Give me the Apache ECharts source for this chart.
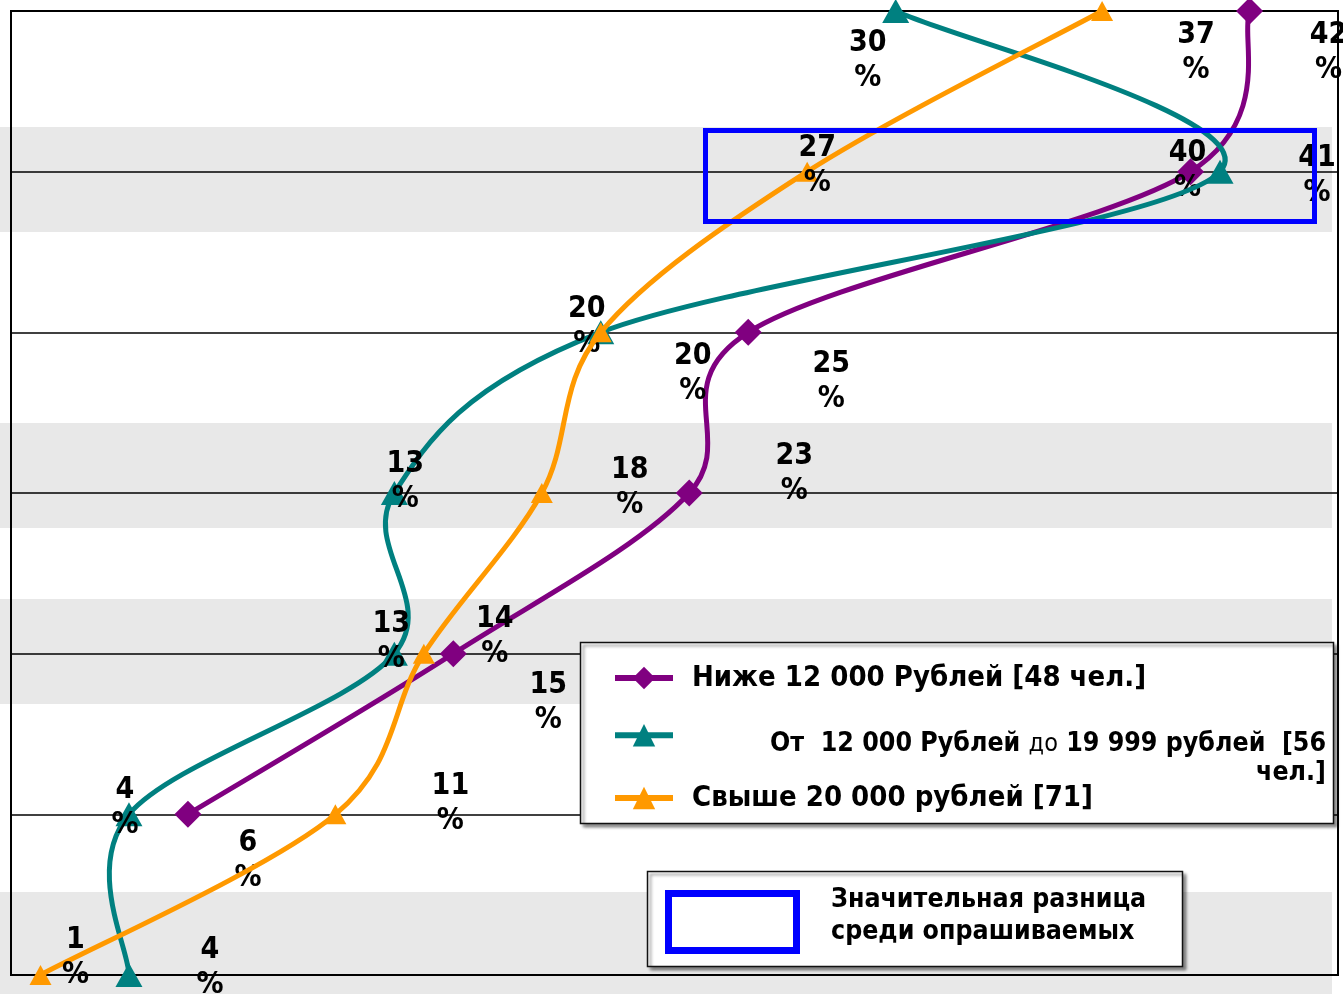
<!DOCTYPE html>
<html>
<head>
<meta charset="utf-8">
<script src="https://cdn.jsdelivr.net/npm/echarts@6/dist/echarts.min.js"></script>
<style>
html,body{margin:0;padding:0;background:#fff;}
#chart{width:1343px;height:994px;}
</style>
</head>
<body>
<div id="chart"></div>
<script>
// ---- data ----
const levels = [0, 1, 2, 3, 4, 5, 6];
const seriesNames = [
  'Ниже 12 000 Рублей [48 чел.]',
  'От  12 000 Рублей до 19 999 рублей  [56 чел.]',
  'Свыше 20 000 рублей [71]'
];
const lowIncome  = [null, 6, 15, 23, 25, 40, 42];
const midIncome  = [4, 4, 13, 13, 20, 41, 30];
const highIncome = [1, 11, 14, 18, 20, 27, 37];
const noteText = 'Значительная разница\nсреди опрашиваемых';

// label offsets (px, relative to point)
const lowOffsets  = [null, [60, 46], [95, 49], [105, -19], [83, 49], [-3, -1], [79, 42]];
const midOffsets  = [[81, -7], [-4, -7], [-3, -12], [11, -11], [-14, -6], [97, 4], [-28, 50]];
const highOffsets = [[35, -17], [115, -11], [71, -17], [88, -5], [92, 41], [10, -6], [94, 42]];

const FONT = '"DejaVu Sans Condensed", "DejaVu Sans", sans-serif';
const colors = ['#800080', '#008080', '#FF9900'];

function points(vals) {
  const out = [];
  levels.forEach((l, i) => { if (vals[i] != null) out.push([vals[i], l]); });
  return out;
}
function offsetsFor(vals, offs) {
  const out = [];
  levels.forEach((l, i) => { if (vals[i] != null) out.push(offs[i]); });
  return out;
}

// smooth curve through the points (Catmull-Rom style Bezier), positioned via the chart's axes
function mkCurve(vals, color, z) {
  const pts = points(vals);
  return {
    type: 'custom',
    z: z,
    silent: true,
    clip: false,
    data: pts,
    encode: { x: 0, y: 1 },
    renderItem: function (params, api) {
      const i = params.dataIndex;
      if (i >= pts.length - 1) return null;
      const c = pts.map(p => api.coord(p));
      const p0 = c[Math.max(i - 1, 0)], p1 = c[i], p2 = c[i + 1], p3 = c[Math.min(i + 2, c.length - 1)];
      const k = 1 / 6;
      return {
        type: 'bezierCurve',
        shape: {
          x1: p1[0], y1: p1[1], x2: p2[0], y2: p2[1],
          cpx1: p1[0] + (p2[0] - p0[0]) * k, cpy1: p1[1] + (p2[1] - p0[1]) * k,
          cpx2: p2[0] - (p3[0] - p1[0]) * k, cpy2: p2[1] - (p3[1] - p1[1]) * k
        },
        style: { fill: 'none', stroke: color, lineWidth: 5, lineCap: 'round' }
      };
    }
  };
}

function mkSeries(name, vals, offs, color, symbol, size, z) {
  const o = offsetsFor(vals, offs);
  return {
    name: name,
    type: 'line',
    data: points(vals),
    clip: false,
    z: z,
    symbol: symbol,
    symbolSize: size,
    showAllSymbol: true,
    lineStyle: { color: color, width: 5, opacity: 0 },
    itemStyle: { color: color },
    label: {
      show: true,
      position: 'inside',
      formatter: p => p.value[0] + '\n%',
      fontFamily: FONT,
      fontWeight: 'bold',
      fontSize: 30,
      lineHeight: 35,
      color: '#000',
      align: 'center'
    },
    labelLayout: function (params) {
      const d = o[params.dataIndex] || [0, 0];
      return { dx: d[0], dy: d[1], hideOverlap: false };
    },
    emphasis: { disabled: true }
  };
}

const chart = echarts.init(document.getElementById('chart'), null, { renderer: 'canvas' });

const bands = [[127, 105], [423, 105], [599, 105], [892, 102]];

function legendBase(idx, top) {
  return {
    z: 20, padding: 0, data: [seriesNames[idx]], left: 612, top: top,
    itemWidth: 58, itemHeight: 28, selectedMode: false,
    lineStyle: { color: colors[idx], width: 6, opacity: 1, type: 'solid' }
  };
}

const option = {
  backgroundColor: '#fff',
  animation: false,
  grid: { left: 11, right: 5, top: 11, bottom: 19, show: true, borderColor: '#000', borderWidth: 2, backgroundColor: 'transparent' },
  xAxis: {
    type: 'value', min: 0, max: 45,
    axisLine: { show: false }, axisTick: { show: false }, axisLabel: { show: false }, splitLine: { show: false }
  },
  yAxis: {
    type: 'value', min: 0, max: 6, interval: 1,
    axisLine: { show: false }, axisTick: { show: false }, axisLabel: { show: false },
    splitLine: { show: true, lineStyle: { color: '#000', width: 1.5 } }
  },
  legend: [
    Object.assign(legendBase(0, 663), {
      textStyle: { fontFamily: FONT, fontWeight: 'bold', fontSize: 29, lineHeight: 30, color: '#000', padding: [0, 0, 0, 14] }
    }),
    Object.assign(legendBase(1, 724), {
      formatter: function () {
        return '{a|От  12 000 Рублей }{b|до}{a| 19 999 рублей  [56}\n{a|чел.]}';
      },
      textStyle: {
        fontFamily: FONT, color: '#000', width: 558, padding: [47, 0, 0, 90],
        rich: {
          a: { fontFamily: FONT, fontWeight: 'bold', fontSize: 26.5, lineHeight: 29, align: 'right', color: '#000' },
          b: { fontFamily: FONT, fontWeight: 'normal', fontSize: 25, lineHeight: 29, align: 'right', color: '#000' }
        }
      }
    }),
    Object.assign(legendBase(2, 783), {
      textStyle: { fontFamily: FONT, fontWeight: 'bold', fontSize: 29, lineHeight: 30, color: '#000', padding: [0, 0, 0, 14] }
    })
  ],
  graphic: {
    elements: [
      ...bands.map(b => ({
        type: 'rect', z: -1, silent: true,
        shape: { x: 0, y: b[0], width: 1332, height: b[1] },
        style: { fill: '#e8e8e8' }
      })),
      {
        type: 'rect', z: 9, silent: true,
        shape: { x: 705.5, y: 130.5, width: 609, height: 91 },
        style: { fill: 'none', stroke: '#0000FF', lineWidth: 5 }
      },
      {
        type: 'rect', z: 10, silent: true,
        shape: { x: 580.5, y: 642.5, width: 753, height: 181 },
        style: { fill: '#fff', stroke: '#111', lineWidth: 1.5, shadowBlur: 3, shadowOffsetX: 3, shadowOffsetY: 3, shadowColor: 'rgba(0,0,0,0.45)' }
      },
      {
        type: 'rect', z: 10, silent: true,
        shape: { x: 647.5, y: 871.5, width: 535, height: 95 },
        style: { fill: '#fff', stroke: '#111', lineWidth: 1.5, shadowBlur: 3, shadowOffsetX: 3, shadowOffsetY: 3, shadowColor: 'rgba(0,0,0,0.45)' }
      },
      {
        type: 'rect', z: 11, silent: true,
        shape: { x: 668.5, y: 893.5, width: 128, height: 57 },
        style: { fill: '#fff', stroke: '#0000FF', lineWidth: 7 }
      },
      {
        type: 'text', z: 11, silent: true,
        x: 831, y: 916,
        style: {
          text: noteText, fill: '#000', font: 'bold 26.5px ' + FONT,
          lineHeight: 32, verticalAlign: 'middle', align: 'left'
        }
      }
    ]
  },
  series: [
    mkCurve(lowIncome, colors[0], 2),
    mkSeries(seriesNames[0], lowIncome, lowOffsets, colors[0], 'diamond', 27, 3),
    mkCurve(midIncome, colors[1], 4),
    mkSeries(seriesNames[1], midIncome, midOffsets, colors[1], 'triangle', [27, 24], 5),
    mkCurve(highIncome, colors[2], 6),
    mkSeries(seriesNames[2], highIncome, highOffsets, colors[2], 'triangle', [22, 20], 7)
  ]
};
chart.setOption(option);
</script>
</body>
</html>
